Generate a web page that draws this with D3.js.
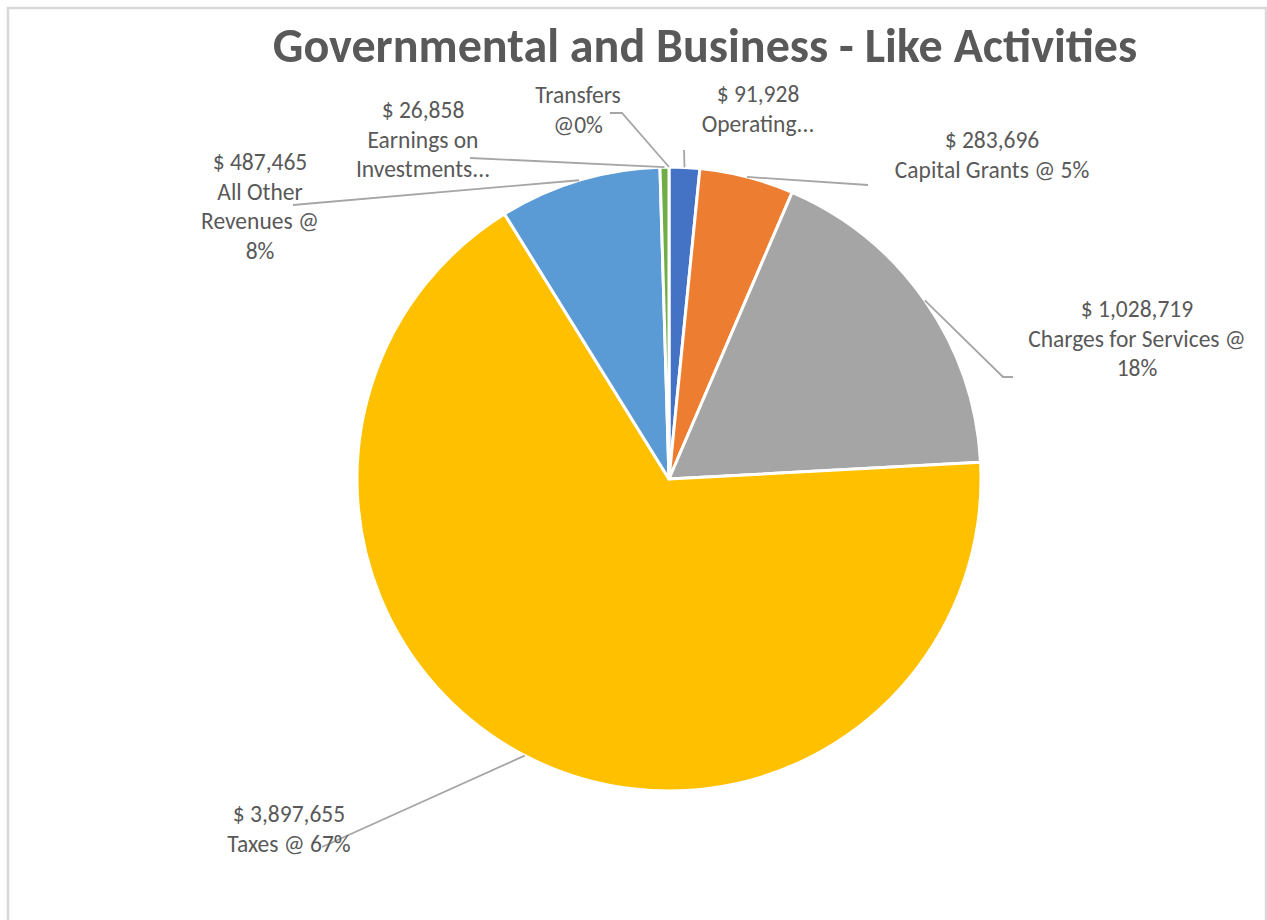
<!DOCTYPE html>
<html>
<head>
<meta charset="utf-8">
<script src="https://cdn.jsdelivr.net/npm/d3@7"></script>
<style>
  html, body { margin: 0; padding: 0; background: #fff; }
  svg { display: block; }
  text { font-family: Calibri, Carlito, Lato, sans-serif; fill: #595959; }
</style>
</head>
<body>
<div id="chart"></div>
<script>
// Chart data
const categories = [
  "Operating", "Capital Grants", "Charges for Services", "Taxes",
  "All Other Revenues", "Earnings on Investments", "Transfers"
];
const amounts = [91928, 283696, 1028719, 3897655, 487465, 26858, 0];
// label text as Excel wrapped it (amount line is added from the data)
const labelLines = [
  ["Operating..."],
  ["Capital Grants @ 5%"],
  ["Charges for Services @", "18%"],
  ["Taxes @ 67%"],
  ["All Other", "Revenues @", "8%"],
  ["Earnings on", "Investments..."],
  ["Transfers", "@0%"]
];
const sliceColors = ["#4472C4", "#ED7D31", "#A5A5A5", "#FFC000", "#5B9BD5", "#70AD47", "#264478"];

// Layout of data labels: text block centre x, first baseline y, leader line end points
const labelLayout = [
  { x: 758, y: 102, leader: [[684, 150]] },
  { x: 992, y: 148, leader: [[868, 185]] },
  { x: 1137, y: 317, leader: [[1013, 377], [1003, 377]] },
  { x: 289, y: 822, leader: [[322, 847]] },
  { x: 260, y: 170, leader: [[293, 205]] },
  { x: 423, y: 118, leader: [[470, 158]] },
  { x: 578, y: 103, leader: [[610, 113], [622, 113]] }
];

const width = 1267, height = 920;
const cx = 669, cy = 479, radius = 312;
const lineGap = 29.5;

const svg = d3.select("#chart").append("svg")
  .attr("width", width)
  .attr("height", height);

// chart area border
svg.append("rect")
  .attr("x", 8).attr("y", 8)
  .attr("width", 1258).attr("height", 940)
  .attr("fill", "#fff")
  .attr("stroke", "#D9D9D9")
  .attr("stroke-width", 2.5);

// Title
const title = svg.append("text")
  .attr("x", 705)
  .attr("y", 62)
  .attr("text-anchor", "middle")
  .style("font-size", "43px")
  .style("font-weight", "bold")
  .text("Governmental and Business - Like Activities");
// fit title to the reference width
const tw = title.node().getComputedTextLength();
title.style("font-size", (43 * 865 / tw).toFixed(1) + "px");

const entries = categories.map((c, i) => ({ key: c, value: amounts[i], index: i }));

const pie = d3.pie().sort(null).value(d => d.value);
const arc = d3.arc().innerRadius(0).outerRadius(radius);
const pieData = pie(entries);

const g = svg.append("g").attr("transform", `translate(${cx}, ${cy})`);

g.selectAll("path.slice")
  .data(pieData.filter(d => d.value > 0))
  .enter()
  .append("path")
  .attr("class", "slice")
  .attr("d", arc)
  .attr("fill", d => sliceColors[d.data.index])
  .attr("stroke", "#fff")
  .attr("stroke-width", 3)
  .attr("stroke-linejoin", "round");

// Leader lines
const fmt = d3.format(",");
const lineGen = d3.line();
pieData.forEach(d => {
  const lay = labelLayout[d.data.index];
  const mid = (d.startAngle + d.endAngle) / 2;
  const px = cx + radius * Math.sin(mid);
  const py = cy - radius * Math.cos(mid);
  const pts = lay.leader.concat([[px, py]]);
  svg.append("path")
    .attr("d", lineGen(pts))
    .attr("fill", "none")
    .attr("stroke", "#A6A6A6")
    .attr("stroke-width", 1.8);
});

// Data labels
pieData.forEach(d => {
  const i = d.data.index;
  const lay = labelLayout[i];
  const lines = (d.value > 0 ? ["$ " + fmt(d.value)] : []).concat(labelLines[i]);
  const t = svg.append("text")
    .attr("text-anchor", "middle")
    .style("font-size", "23.5px");
  lines.forEach((ln, k) => {
    t.append("tspan")
      .attr("x", lay.x)
      .attr("y", lay.y + k * lineGap)
      .text(ln);
  });
});
</script>
</body>
</html>
